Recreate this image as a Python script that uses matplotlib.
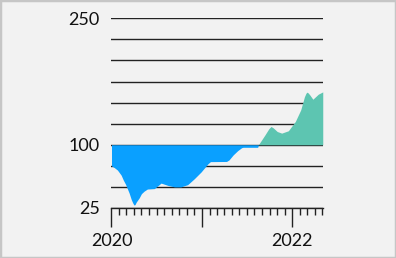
import matplotlib
matplotlib.use("Agg")
import matplotlib.pyplot as plt
import matplotlib.dates as mdates
from matplotlib.patches import Rectangle
import numpy as np
import pandas as pd

dates = ["2020-01-01", "2020-01-12", "2020-01-25", "2020-02-09", "2020-02-18",
         "2020-02-27", "2020-03-12", "2020-03-21", "2020-03-27", "2020-04-01",
         "2020-04-05", "2020-04-10", "2020-04-22", "2020-05-01", "2020-05-12",
         "2020-05-25", "2020-06-22", "2020-07-12", "2020-07-19", "2020-07-25",
         "2020-08-16", "2020-09-12", "2020-10-07", "2020-11-04", "2020-12-01",
         "2020-12-28", "2021-01-25", "2021-02-04", "2021-04-10", "2021-04-20",
         "2021-05-07", "2021-05-25", "2021-06-10", "2021-06-16", "2021-08-14",
         "2021-08-17", "2021-09-13", "2021-09-28", "2021-10-07", "2021-10-16",
         "2021-11-01", "2021-11-19", "2021-12-16", "2022-01-13", "2022-02-04",
         "2022-02-19", "2022-02-25", "2022-03-01", "2022-03-06", "2022-03-13",
         "2022-03-25", "2022-04-05", "2022-04-16", "2022-05-04"]
values = [75, 73, 70, 64, 58,
          53, 43, 35, 31, 28.5,
          29, 32, 37, 42, 45,
          47.5, 48, 52.7, 54.5, 54,
          51.8, 50, 50, 52.7, 59.8,
          67.7, 77.5, 80, 80.2, 82,
          88, 93, 96.5, 97, 97,
          100, 112, 119, 121.7, 120,
          115.7, 113.8, 116.6, 127.6, 141.4,
          157, 161, 162.4, 161.5, 159,
          154, 157, 160, 162.7]
baseline = 100
grid_levels = [25, 50, 75, 100, 125, 150, 175, 200, 225, 250]
ytick_labels = {250: "250", 100: "100", 25: "25"}
year_labels = ["2020", "2022"]

x = pd.to_datetime(dates)
v = np.array(values, dtype=float)

W, H = 396, 258
fig = plt.figure(figsize=(W / 100, H / 100), dpi=100)
fig.patch.set_facecolor("#f2f2f2")
fig.patches.append(Rectangle((0, 0), 1, 1, transform=fig.transFigure,
                             facecolor="none", edgecolor="#c6c6c6", linewidth=2.5,
                             zorder=10))

ax = fig.add_axes([111 / W, 1 - 208 / H, (323 - 111) / W, (208 - 18.3) / H])
ax.set_facecolor("#f2f2f2")

for g in grid_levels:
    ax.axhline(g, color="#222222", linewidth=1.0, zorder=1)

ax.fill_between(x, v, baseline, where=v <= baseline, interpolate=True,
                color="#0aa0ff", linewidth=0, zorder=2)
ax.fill_between(x, v, baseline, where=v >= baseline, interpolate=True,
                color="#5dc5b1", linewidth=0, zorder=2)

ax.set_ylim(25, 250)
ax.set_xlim(pd.Timestamp("2019-12-30"), pd.Timestamp("2022-05-05"))

for s in ["top", "right", "left"]:
    ax.spines[s].set_visible(False)
ax.spines["bottom"].set_color("#222222")
ax.spines["bottom"].set_linewidth(1.0)

font = "Lato"
ax.set_yticks(list(ytick_labels.keys()))
ax.set_yticklabels(list(ytick_labels.values()), fontsize=13, family=font, color="#111111")
ax.tick_params(axis="y", length=0, pad=8)

ax.xaxis.set_minor_locator(mdates.MonthLocator())
ax.set_xticks([pd.Timestamp("2020-01-01"), pd.Timestamp("2021-01-01"), pd.Timestamp("2022-01-01")])
ax.set_xticklabels([year_labels[0], "", year_labels[1]], fontsize=13, family=font, color="#111111")
ax.tick_params(axis="x", which="major", length=14, width=1.0, color="#222222", pad=4, direction="out")
ax.tick_params(axis="x", which="minor", length=5, width=1.0, color="#222222", direction="out")

fig.savefig("out.png", dpi=100, facecolor=fig.get_facecolor())
